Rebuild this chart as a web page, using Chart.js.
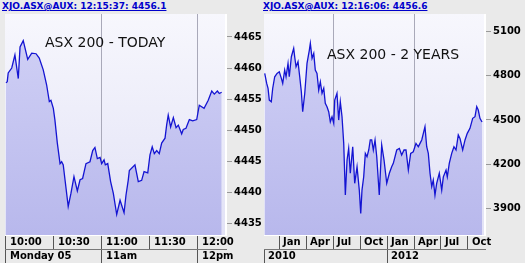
<!DOCTYPE html>
<html><head><meta charset="utf-8">
<script src="https://cdn.jsdelivr.net/npm/chart.js@4"></script>
<style>
html,body{margin:0;padding:0;background:#eaeaea;width:525px;height:263px;overflow:hidden}
body{position:relative}
.hdr{position:absolute;top:1px;font:bold 9px "DejaVu Sans";line-height:11px;color:#0000cc;text-decoration:underline;white-space:nowrap}
.ttl{position:absolute;font:14px "DejaVu Sans";line-height:16px;color:#111;white-space:nowrap;z-index:2}
canvas{position:absolute;top:14px}
</style></head><body>
<div class="hdr" style="left:2px">XJO.ASX@AUX: 12:15:37: 4456.1</div>
<div class="hdr" style="left:263px">XJO.ASX@AUX: 12:16:06: 4456.6</div>
<canvas id="c1" width="262" height="249" style="left:0px"></canvas>
<canvas id="c2" width="263" height="249" style="left:262px"></canvas>
<div class="ttl" style="left:45px;top:34px">ASX 200 - TODAY</div>
<div class="ttl" style="left:327px;top:46px">ASX 200 - 2 YEARS</div>
<script>
// ---- TODAY (minutes after 10:00) ----
const todayMinutes = [0,0.8,1.4,3.6,5.6,7.7,8.8,10.8,13.6,16.1,18.8,20.8,23.3,25.4,27.1,28.1,29.6,30.6,32.1,33.8,34.8,35.8,36.9,38.9,40.6,42.5,44.6,46.3,47.9,50,52.5,54.2,55.6,57.1,58.8,59.8,61.3,62.1,63.6,65.4,67.1,69.2,71.3,73.8,75,76.4,77.1,80.6,82.7,84.8,86.3,88.6,90,91.4,92.7,94.2,95.8,97.3,99.4,100.4,101.4,102.9,104.6,106.3,107.7,109.8,110.8,112.5,114.6,116.7,119.2,120.8,123.8,126.4,128.6,130.2,132.1,133.3,134.8];
const todayValues = [4457.6,4457.8,4459.2,4460.0,4462.1,4458.3,4463.4,4464.4,4461.4,4462.4,4462.3,4461.6,4459.7,4457.3,4454.6,4454.8,4453.5,4451.6,4447.9,4444.6,4444.9,4444.4,4442.0,4437.7,4439.8,4442.5,4440.2,4442.0,4442.2,4444.6,4444.9,4446.7,4447.2,4445.4,4445.6,4444.6,4445.2,4444.4,4444.6,4441.7,4439.8,4436.4,4438.7,4436.7,4439.5,4441.9,4443.5,4444.4,4441.7,4441.9,4443.3,4443.1,4446.0,4447.3,4446.2,4446.7,4446.2,4447.9,4448.7,4450.8,4452.4,4450.5,4452.0,4450.4,4450.8,4449.4,4450.1,4450.3,4451.7,4451.5,4451.7,4454.0,4453.5,4454.8,4456.3,4455.8,4456.3,4455.9,4456.1];
const todayTimeTicks = [0,30,60,90,120];
const todayTimeLabels = ['10:00','10:30','11:00','11:30','12:00'];
const todayDayTicks = [0,60,120];
const todayDayLabels = ['Monday 05','11am','12pm'];
const todayGridLines = [60,120];
const todayYTicks = [4435,4440,4445,4450,4455,4460,4465];

// ---- 2 YEARS (months after Jan 2011) ----
const yearsMonths = [-1.59,-1.37,-1.22,-1.08,-0.86,-0.7,-0.48,-0.22,0.03,0.26,0.41,0.63,0.78,1.0,1.14,1.37,1.63,1.74,1.89,2.11,2.3,2.48,2.63,2.86,3.11,3.37,3.48,3.67,3.86,4.03,4.22,4.41,4.59,4.78,4.97,5.14,5.33,5.52,5.7,5.89,6.08,6.19,6.44,6.63,6.81,7.0,7.19,7.37,7.56,7.74,7.92,8.19,8.41,8.67,8.92,9.08,9.22,9.41,9.59,9.78,9.97,10.14,10.3,10.48,10.67,10.86,11.14,11.41,11.67,11.97,12.26,12.52,12.7,13.08,13.37,13.63,13.89,14.11,14.37,14.63,14.92,15.22,15.48,15.67,15.86,16.22,16.41,16.59,16.78,16.97,17.14,17.33,17.52,17.81,18.08,18.26,18.56,18.7,18.92,19.19,19.44,19.67,19.92,20.11,20.41,20.67,20.92,21.22,21.52,21.78,21.97,22.14,22.33,22.56];
const yearsValues = [4816,4748,4715,4635,4624,4715,4793,4816,4827,4782,4748,4839,4793,4884,4793,4929,4986,4929,4861,4895,4793,4691,4556,4681,4884,4974,5020,4918,4952,4839,4816,4703,4759,4681,4715,4613,4590,4556,4488,4522,4477,4635,4681,4499,4624,4522,4341,3990,4228,4307,4138,4318,4070,4182,4024,3866,4024,4114,4273,4250,4296,4364,4364,4296,4364,4250,3990,4330,4228,4070,4138,4182,4205,4296,4307,4262,4296,4296,4160,4273,4284,4341,4318,4341,4364,4454,4318,4273,4138,4047,4092,3990,4070,4138,4024,4114,4160,4114,4205,4273,4318,4296,4398,4375,4296,4364,4409,4443,4511,4522,4590,4567,4511,4486];
const monthTicks = [0,3,6,9,12,15,18,21];
const monthLabels = ['Jan','Apr','Jul','Oct','Jan','Apr','Jul','Oct'];
const yearTicks = [-1.67,12];
const yearLabels = ['2010','2012'];
const yearsGridLines = [6,15];
const yearsYTicks = [3900,4200,4500,4800,5100];

const FONT = {family:'DejaVu Sans', weight:'bold', size:10};

const plotBg = {
  id:'plotBg',
  beforeDraw(chart){
    const {ctx, chartArea:a} = chart;
    const g = ctx.createLinearGradient(0,a.top,0,a.bottom);
    g.addColorStop(0,'#f7f7fd'); g.addColorStop(1,'#e2e2f6');
    ctx.save(); ctx.fillStyle = g; ctx.fillRect(a.left,a.top,a.right-a.left,a.bottom-a.top); ctx.restore();
  }
};

function noPad(s){ s.paddingTop = 0; s.paddingBottom = 0; s.paddingLeft = 0; s.paddingRight = 0; }

function makeChart(id, xs, ys, cfg){
  const ctx = document.getElementById(id).getContext('2d');
  return new Chart(ctx, {
    type:'line',
    data:{datasets:[{
      data: xs.map((x,i)=>({x:x, y:ys[i]})),
      borderColor:'#1414d2', borderWidth:1.3, pointRadius:0, tension:0,
      fill:'start',
      backgroundColor:(c)=>{
        const a = c.chart.chartArea; if(!a) return '#c4c4f0';
        const g = c.chart.ctx.createLinearGradient(0,a.top,0,a.bottom);
        g.addColorStop(0,'#d2d2f6'); g.addColorStop(1,'#b8b8ec'); return g;
      },
      xAxisID:'x', yAxisID:'y'
    }]},
    options:{
      responsive:false, animation:false, events:[],
      layout:{padding:{left:cfg.padLeft, right:0, top:0, bottom:0}},
      plugins:{legend:{display:false}, tooltip:{enabled:false}, title:{display:false}},
      scales:{
        x:{type:'linear', position:'bottom', min:cfg.xmin, max:cfg.xmax, weight:0,
          afterBuildTicks:s=>{s.ticks = cfg.row1Ticks.map(v=>({value:v}));},
          afterFit:s=>{s.height = 14; noPad(s);},
          ticks:{autoSkip:false, maxRotation:0, minRotation:0, align:'start', labelOffset:4, padding:-13,
                 font:FONT, color:'#000', callback:(v,i)=>cfg.row1Labels[i]},
          grid:{drawOnChartArea:true, drawTicks:true, tickLength:14,
                color:c=> (c.tick && cfg.grid.includes(c.tick.value)) ? '#a9a9b9' : 'rgba(0,0,0,0)',
                tickColor:'#555', lineWidth:1},
          border:{display:true, color:'#ffffff', width:1}
        },
        x2:{type:'linear', position:'bottom', min:cfg.xmin, max:cfg.xmax, weight:1,
          afterBuildTicks:s=>{s.ticks = cfg.row2Ticks.map(v=>({value:v}));},
          afterFit:s=>{s.height = 14; noPad(s);},
          ticks:{autoSkip:false, maxRotation:0, minRotation:0, align:'start', labelOffset:4, padding:-13,
                 font:FONT, color:'#000', callback:(v,i)=>cfg.row2Labels[i]},
          grid:{drawOnChartArea:false, drawTicks:true, tickLength:14, tickColor:'#555'},
          border:{display:true, color:'#777', width:1}
        },
        y:{type:'linear', position:'right', min:cfg.ymin, max:cfg.ymax,
          afterBuildTicks:s=>{s.ticks = cfg.yTicks.map(v=>({value:v}));},
          afterFit:s=>{s.width = cfg.yWidth; noPad(s);},
          ticks:{padding:2, font:FONT, color:'#000', callback:v=>String(v)},
          grid:{drawOnChartArea:false, drawTicks:true, tickLength:6, tickColor:'#999'},
          border:{display:true, color:'#ffffff', width:2}
        }
      }
    },
    plugins:[plotBg]
  });
}

makeChart('c1', todayMinutes, todayValues, {
  padLeft:5, xmin:-0.6, xmax:137.5, ymin:4433.1, ymax:4468.7, yWidth:36,
  row1Ticks:todayTimeTicks, row1Labels:todayTimeLabels,
  row2Ticks:todayDayTicks, row2Labels:todayDayLabels,
  grid:todayGridLines, yTicks:todayYTicks
});
makeChart('c2', yearsMonths, yearsValues, {
  padLeft:2, xmin:-1.67, xmax:22.89, ymin:3719, ymax:5219, yWidth:40,
  row1Ticks:monthTicks, row1Labels:monthLabels,
  row2Ticks:yearTicks, row2Labels:yearLabels,
  grid:yearsGridLines, yTicks:yearsYTicks
});
</script>
</body></html>
